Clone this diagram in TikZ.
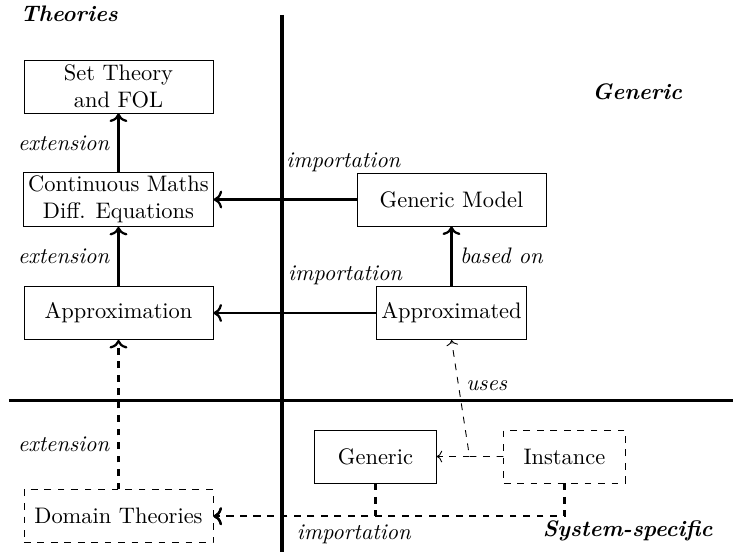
\documentclass[tikz,border=0pt]{standalone}
\usetikzlibrary{positioning,arrows.meta}
\tikzset{>={Computer Modern Rightarrow}}
\tikzset{box/.style={draw,align=center,minimum height=.83cm,inner xsep=2pt,inner ysep=1.5pt}}
\tikzset{widebox/.style={box,minimum width=2.96cm}}
\tikzset{smallbox/.style={box,minimum width=1.9cm}}
\tikzset{region/.style={font=\bfseries\itshape}}
\tikzset{link/.style={line width=1pt,->}}

\begin{document}
\begin{tikzpicture}
\useasboundingbox (0,0) rectangle (11.477,8.643);
\draw[ultra thick] (4.415,8.41) -- (4.415,0);
\draw[ultra thick] (0.14,2.372) -- (11.477,2.372);
\node[region,anchor=west] (theories) at (0.2,8.42) {Theories};
\node[region,anchor=west] (genericside) at (9.15,7.2) {Generic};
\node[region,anchor=east] (systemside) at (11.28,0.33) {System-specific};

\node[widebox] (settheory) at (1.855,7.288) {Set Theory\\and FOL};
\node[widebox] (continuous) at (1.855,5.519) {Continuous Maths\\Diff. Equations};
\node[widebox] (approximation) at (1.855,3.742) {Approximation};
\node[widebox,dashed] (domain) at (1.855,0.56) {Domain Theories};
\node[widebox] (genmodel) at (7.069,5.519) {Generic Model};
\node[box] (approximated) at (7.069,3.742) {Approximated};
\node[smallbox] (generic) at (5.879,1.495) {Generic};
\node[smallbox,dashed] (instance) at (8.838,1.495) {Instance};

\draw[link] (continuous) -- node[left] {\textit{extension}} (settheory);
\draw[link] (approximation) -- node[left] {\textit{extension}} (continuous);
\draw[link,dashed] (domain) -- node[pos=.3,left] {\textit{extension}} (approximation);
\draw[link] (genmodel) -- node[pos=.09,above=.3cm] {\textit{importation}} (continuous);
\draw[link] (approximated) -- node[pos=.19,above=.3cm] {\textit{importation}} (approximation);
\draw[link] (approximated) -- node[right] {\textit{based on}} (genmodel);

% instances use both models
\draw[dashed,->] (instance.west) -- ++(-.53,0) coordinate (usebend) -- node[pos=.61,right] {\textit{uses}} (approximated.south);
\draw[dashed,->] (usebend) -- (generic.east);
\draw[link,dashed] (generic.south) |- node[pos=.566,below] {\textit{importation}} (domain.east);
\draw[link,dashed] (instance.south) |- (domain.east);
\end{tikzpicture}
\end{document}
